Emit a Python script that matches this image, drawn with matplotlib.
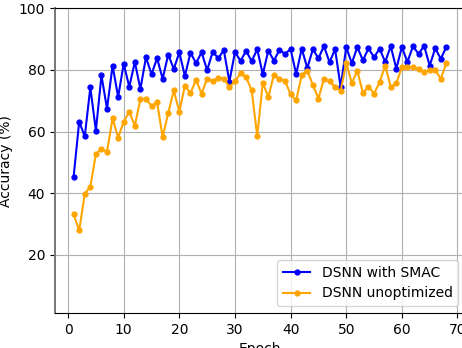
import matplotlib
import matplotlib.pyplot as plt
import numpy as np

matplotlib.use("Agg")

epochs = np.arange(1, 69)

# Accuracy per epoch (%)
acc_smac = [
    45.4, 63.2, 58.4, 74.3, 60.3, 78.2, 67.4, 81.4, 71.2, 82.0,
    74.5, 82.6, 73.8, 84.1, 78.6, 83.8, 77.1, 85.0, 80.3, 85.7,
    78.0, 85.6, 82.2, 85.7, 79.9, 85.9, 83.8, 86.4, 76.2, 85.8,
    82.9, 86.2, 82.8, 86.7, 78.6, 86.3, 83.0, 86.5, 85.2, 86.8,
    78.6, 86.9, 80.6, 86.7, 83.8, 87.7, 82.5, 86.7, 74.4, 87.4,
    82.2, 87.4, 83.1, 87.0, 84.1, 86.9, 82.6, 87.7, 80.4, 87.4,
    82.6, 87.7, 85.2, 87.8, 81.4, 87.0, 83.6, 87.5,
]
acc_unopt = [
    33.1, 27.9, 39.8, 42.1, 52.7, 54.3, 53.5, 64.3, 58.0, 63.2,
    66.4, 61.9, 70.5, 70.6, 68.3, 69.5, 58.2, 66.0, 73.4, 66.4,
    74.9, 72.4, 76.8, 72.3, 77.2, 76.4, 77.4, 77.2, 74.4, 76.3,
    78.9, 77.6, 73.4, 58.6, 75.8, 71.2, 78.4, 77.2, 76.4, 72.1,
    70.1, 78.3, 79.8, 75.1, 70.7, 77.1, 76.3, 74.4, 73.3, 82.2,
    75.8, 79.7, 72.5, 74.6, 72.3, 76.0, 81.4, 74.5, 75.6, 80.9,
    80.9, 80.8, 80.3, 79.3, 80.0, 80.0, 77.1, 82.2,
]

fig = plt.figure(figsize=(4.62, 3.48), dpi=100)
ax = fig.add_axes([55 / 462, 1 - 313 / 348, 410 / 462, (313 - 8.3) / 348])

ax.plot(epochs, acc_smac, label="DSNN with SMAC", color="blue", marker="o", markersize=3.5)
ax.plot(epochs, acc_unopt, label="DSNN unoptimized", color="orange", marker="o", markersize=3.5)

ax.set_xlim(-2.35, 71.35)
ax.set_ylim(1.1, 100)
ax.set_yticks([20, 40, 60, 80, 100])
ax.set_xticks([0, 10, 20, 30, 40, 50, 60, 70])
ax.set_xlabel("Epoch")
ax.set_ylabel("Accuracy (%)")
ax.grid(True)
ax.spines["left"].set_color("#777777")
ax.spines["left"].set_linewidth(1.4)
ax.legend(loc="lower right")

fig.savefig("out.png", dpi=100)
